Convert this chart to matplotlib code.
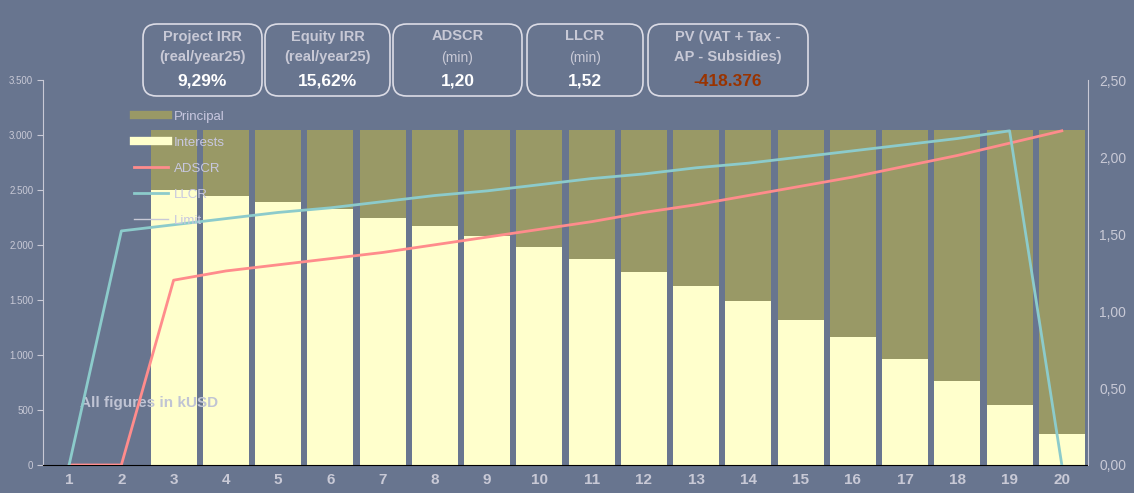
import matplotlib.pyplot as plt
from matplotlib.lines import Line2D
from matplotlib.patches import FancyBboxPatch
from matplotlib.ticker import FuncFormatter

plt.rcParams['font.family'] = ['Liberation Sans', 'DejaVu Sans']

# data
years = list(range(1, 21))
interests = [0, 0, 2500, 2445, 2390, 2327, 2245, 2173, 2082, 1982, 1873,
             1755, 1627, 1491, 1318, 1164, 964, 764, 545, 282]
debt_service = [0, 0] + [3045] * 18
principal = [d - i for d, i in zip(debt_service, interests)]
adscr = [0, 0, 1.20, 1.26, 1.30, 1.34, 1.38, 1.43, 1.48, 1.53, 1.58,
         1.64, 1.69, 1.75, 1.81, 1.87, 1.94, 2.01, 2.09, 2.17]
llcr = [0, 1.52, 1.56, 1.60, 1.64, 1.67, 1.71, 1.75, 1.78, 1.82, 1.86,
        1.89, 1.93, 1.96, 2.00, 2.04, 2.08, 2.12, 2.17, 0]

kpi_titles = ["Project IRR\n(real/year25)", "Equity IRR\n(real/year25)",
              "ADSCR", "LLCR", "PV (VAT + Tax -\nAP - Subsidies)"]
kpi_subs = ["", "", "(min)", "(min)", ""]
kpi_values = ["9,29%", "15,62%", "1,20", "1,52", "-418.376"]

BG = "#68758f"
GRID = "#c8c9d6"
YEL = "#ffffcc"
OLIVE = "#999966"
PINK = "#ff8c8c"
TEAL = "#8ccbcb"

fig = plt.figure(figsize=(11.34, 4.93), dpi=100, facecolor=BG)
ax = fig.add_axes([0.0379, 0.0568, 0.9215, 0.7809], facecolor=BG)

ax.bar(years, interests, width=0.88, color=YEL, zorder=2)
ax.bar(years, principal, bottom=interests, width=0.88, color=OLIVE, zorder=2)
ax.set_xlim(0.5, 20.5)
ax.set_ylim(0, 3500)
ax.set_yticks(range(0, 3501, 500))
ax.yaxis.set_major_formatter(FuncFormatter(lambda v, p: f"{int(v):,}".replace(",", ".")))
ax.set_xticks(years)
ax.tick_params(axis="y", colors=GRID, labelsize=7, length=4, pad=3)
ax.tick_params(axis="x", colors=GRID, labelsize=11, length=0, pad=6)
for lbl in ax.get_xticklabels():
    lbl.set_fontweight("bold")
for s in ["top", "right"]:
    ax.spines[s].set_visible(False)
ax.spines["left"].set_color(GRID)
ax.spines["bottom"].set_color("black")
ax.spines["bottom"].set_zorder(5)

ax2 = ax.twinx()
ax2.plot(years, adscr, color=PINK, lw=2, zorder=3)
ax2.plot(years, llcr, color=TEAL, lw=2, zorder=3)
ax2.set_ylim(0, 2.5)
ax2.set_yticks([0, 0.5, 1.0, 1.5, 2.0, 2.5])
ax2.yaxis.set_major_formatter(FuncFormatter(lambda v, p: f"{v:.2f}".replace(".", ",")))
ax2.tick_params(axis="y", colors=GRID, labelsize=10, length=0, pad=8)
for s in ["top", "left", "bottom"]:
    ax2.spines[s].set_visible(False)
ax2.spines["right"].set_color(GRID)

handles = [Line2D([], [], color=OLIVE, lw=6),
           Line2D([], [], color=YEL, lw=6),
           Line2D([], [], color=PINK, lw=2),
           Line2D([], [], color=TEAL, lw=2),
           Line2D([], [], color=GRID, lw=1)]
leg = ax2.legend(handles, ["Principal", "Interests", "ADSCR", "LLCR", "Limit"],
                 loc="upper left", bbox_to_anchor=(0.078, 0.945), frameon=False,
                 fontsize=9.5, handlelength=2.6, handletextpad=0.45, labelspacing=1.05,
                 borderpad=0.2)
for t in leg.get_texts():
    t.set_color("#c8c8e0")

ax.text(0.035, 0.16, "All figures in kUSD", transform=ax.transAxes, va="center",
        color="#c0c4d4", fontsize=11, fontweight="bold", zorder=6)

# KPI boxes
boxes = [(143, 262), (265, 390), (393, 522), (527, 643), (648, 808)]
W, H = 1134, 493
for (x0, x1), title, sub, val in zip(boxes, kpi_titles, kpi_subs, kpi_values):
    fx0, fx1 = x0 / W, x1 / W
    fy0, fy1 = 1 - 96 / H, 1 - 24 / H
    fig.patches.append(FancyBboxPatch((fx0, fy0), fx1 - fx0, fy1 - fy0,
                                      boxstyle="round,pad=0,rounding_size=0.012",
                                      transform=fig.transFigure, fc="none",
                                      ec="#dcdce6", lw=1.2, mutation_aspect=W / H))
    cx = (fx0 + fx1) / 2
    col = "#993300" if val.startswith("-") else "white"
    if sub:
        fig.text(cx, 1 - 36 / H, title, ha="center", va="center",
                 color=GRID, fontsize=10.5, fontweight="bold")
        fig.text(cx, 1 - 58 / H, sub, ha="center", va="center",
                 color=GRID, fontsize=10)
    else:
        fig.text(cx, 1 - 47 / H, title, ha="center", va="center",
                 color=GRID, fontsize=10.5, fontweight="bold",
                 linespacing=1.5)
    fig.text(cx, 1 - 81 / H, val, ha="center", va="center", color=col,
             fontsize=12.5, fontweight="bold")

fig.savefig("out.png", dpi=100, facecolor=BG)
